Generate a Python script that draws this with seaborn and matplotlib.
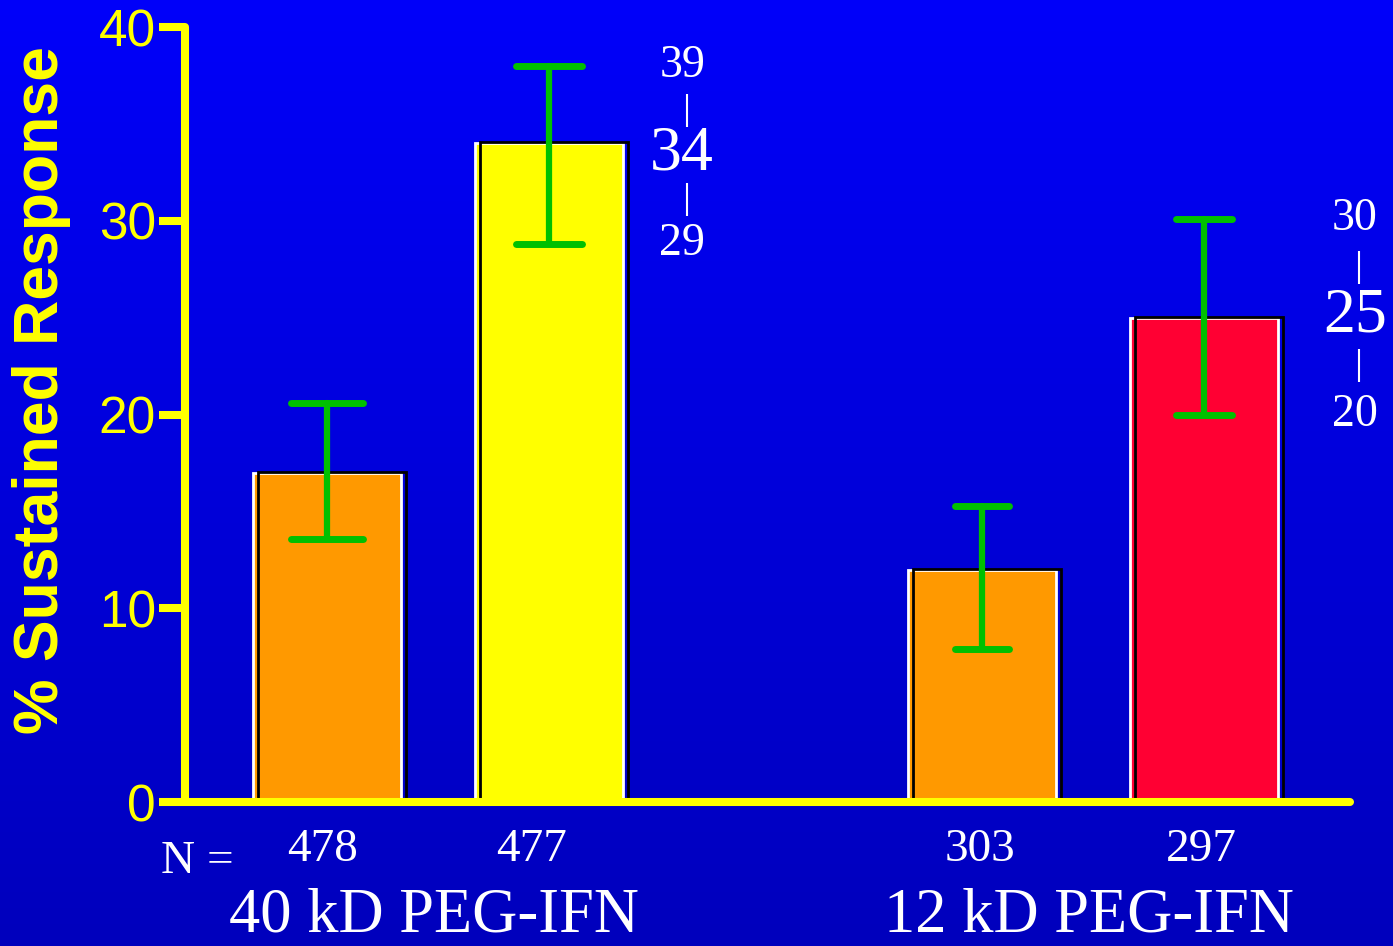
import numpy as np
import pandas as pd
import matplotlib.pyplot as plt
import seaborn as sns
from matplotlib.patches import Rectangle
from matplotlib.transforms import ScaledTranslation, blended_transform_factory

# values
arms = ["IFN (40 kD arm)", "40 kD PEG-IFN", "IFN (12 kD arm)", "12 kD PEG-IFN"]
response = [17, 34, 12, 25]
ci_low = [13.6, 28.8, 7.9, 20.0]
ci_high = [20.6, 38.0, 15.3, 30.1]
n_pts = ["478", "477", "303", "297"]
groups = ["40 kD PEG-IFN", "12 kD PEG-IFN"]
ci_text = [("39", "34", "29"), ("30", "25", "20")]   # upper, point, lower
ci_bars = [1, 3]                                     # which bars get the side labels
yticks = [0, 10, 20, 30, 40]

# layout / style
xpos = [0, 1, 2.95, 3.95]
bar_colors = ["#FF9900", "#FFFF00", "#FF9900", "#FF0033"]
cap_w = [0.32, 0.30, 0.24, 0.25]
ci_dx = [0.60, 0.68]
n_dx = [-0.02, -0.08, -0.01, -0.01]
yellow = "#FFFF00"
green = "#00C000"

plt.rcParams["font.family"] = ["Liberation Serif", "DejaVu Serif"]

W, H = 1393, 946
fig = plt.figure(figsize=(W / 100, H / 100), dpi=100)

# blue gradient background
bg = fig.add_axes([0, 0, 1, 1], zorder=-10)
t = np.linspace(0, 1, 300)[:, None]
top, bot = np.array([0, 0, 0.98]), np.array([0, 0, 0.74])
grad = (top * (1 - t) + bot * t)[:, None, :].repeat(2, axis=1)
bg.imshow(grad, aspect="auto", extent=[0, 1, 0, 1])
bg.axis("off")

ax = fig.add_axes([185 / W, 1 - 802 / H, 1 - 185 / W, (802 - 27) / H])
ax.patch.set_alpha(0)

df = pd.DataFrame({"pos": xpos, "value": response, "arm": arms})
sns.barplot(data=df, x="pos", y="value", hue="arm",
            palette=dict(zip(arms, bar_colors)), native_scale=True,
            width=0.665, dodge=False, legend=False, errorbar=None,
            saturation=1, edgecolor="white", linewidth=2, ax=ax, zorder=1)

# black offset outline ("shadow") on every bar
shift = ax.transData + ScaledTranslation(0.05, 0.01, fig.dpi_scale_trans)
for p in list(ax.patches):
    ax.add_patch(Rectangle((p.get_x(), p.get_y()), p.get_width(), p.get_height(),
                           fill=False, ec="black", lw=2, transform=shift, zorder=1.5))

# confidence intervals
ax.vlines(xpos, ci_low, ci_high, color=green, lw=4.5, capstyle="round", zorder=4)
for x, lo, hi, cw in zip(xpos, ci_low, ci_high, cap_w):
    ax.hlines([lo, hi], x - cw / 2, x + cw / 2, color=green, lw=5,
              capstyle="round", zorder=4)

ax.set_xlim((185 - 327) / 222, (W - 327) / 222)
ax.set_ylim(0, 40)

# side labels with the interval
for k, i in enumerate(ci_bars):
    x = xpos[i] + ci_dx[k]
    ys = [ci_high[i], (ci_high[i] + ci_low[i]) / 2, ci_low[i]]
    for txt, y, fs in zip(ci_text[k], ys, [33, 46, 33]):
        ax.text(x, y, txt, color="white", fontsize=fs, ha="center",
                va="center", clip_on=False)
    for a, b in [(ys[0], ys[1]), (ys[1], ys[2])]:
        m = (a + b) / 2
        ax.vlines(x + 0.02, m - 0.85, m + 0.85, color="white", lw=1.5,
                  clip_on=False)

# axes styling
for s in ["top", "right"]:
    ax.spines[s].set_visible(False)
for s in ["left", "bottom"]:
    ax.spines[s].set_color(yellow)
    ax.spines[s].set_linewidth(5.8)
    ax.spines[s].set_capstyle("round")
    ax.spines[s].set_zorder(3)
ax.spines["left"].set_bounds(0, 40)
ax.spines["bottom"].set_bounds(ax.get_xlim()[0], (1350 - 327) / 222)

ax.set_yticks(yticks)
ax.tick_params(axis="y", colors=yellow, labelsize=37, length=19, width=5.8, pad=2)
for lab in ax.get_yticklabels():
    lab.set_family("Liberation Sans")
ax.tick_params(axis="x", bottom=False, labelbottom=False)
ax.set_xlabel("")
ax.set_ylabel("")

fig.text(42 / W, 1 - 390 / H, "% Sustained Response", rotation=90, color=yellow,
         fontsize=45, fontweight="bold", family="Liberation Sans",
         ha="center", va="center")

# N per arm and group labels under the axis
trans = blended_transform_factory(ax.transData, ax.transAxes)
for x, dx, n in zip(xpos, n_dx, n_pts):
    ax.text(x + dx, -0.062, n, transform=trans, color="white", fontsize=34,
            ha="center", va="center", clip_on=False)
fig.text(197 / W, 1 - 862 / H, "N =", color="white", fontsize=34,
         ha="center", va="center")
for g, pair in zip(groups, [xpos[:2], xpos[2:]]):
    ax.text(np.mean(pair) - 0.02, -0.167, g, transform=trans, color="white",
            fontsize=45, ha="center", va="baseline", clip_on=False)

fig.savefig("out.png", dpi=100)
